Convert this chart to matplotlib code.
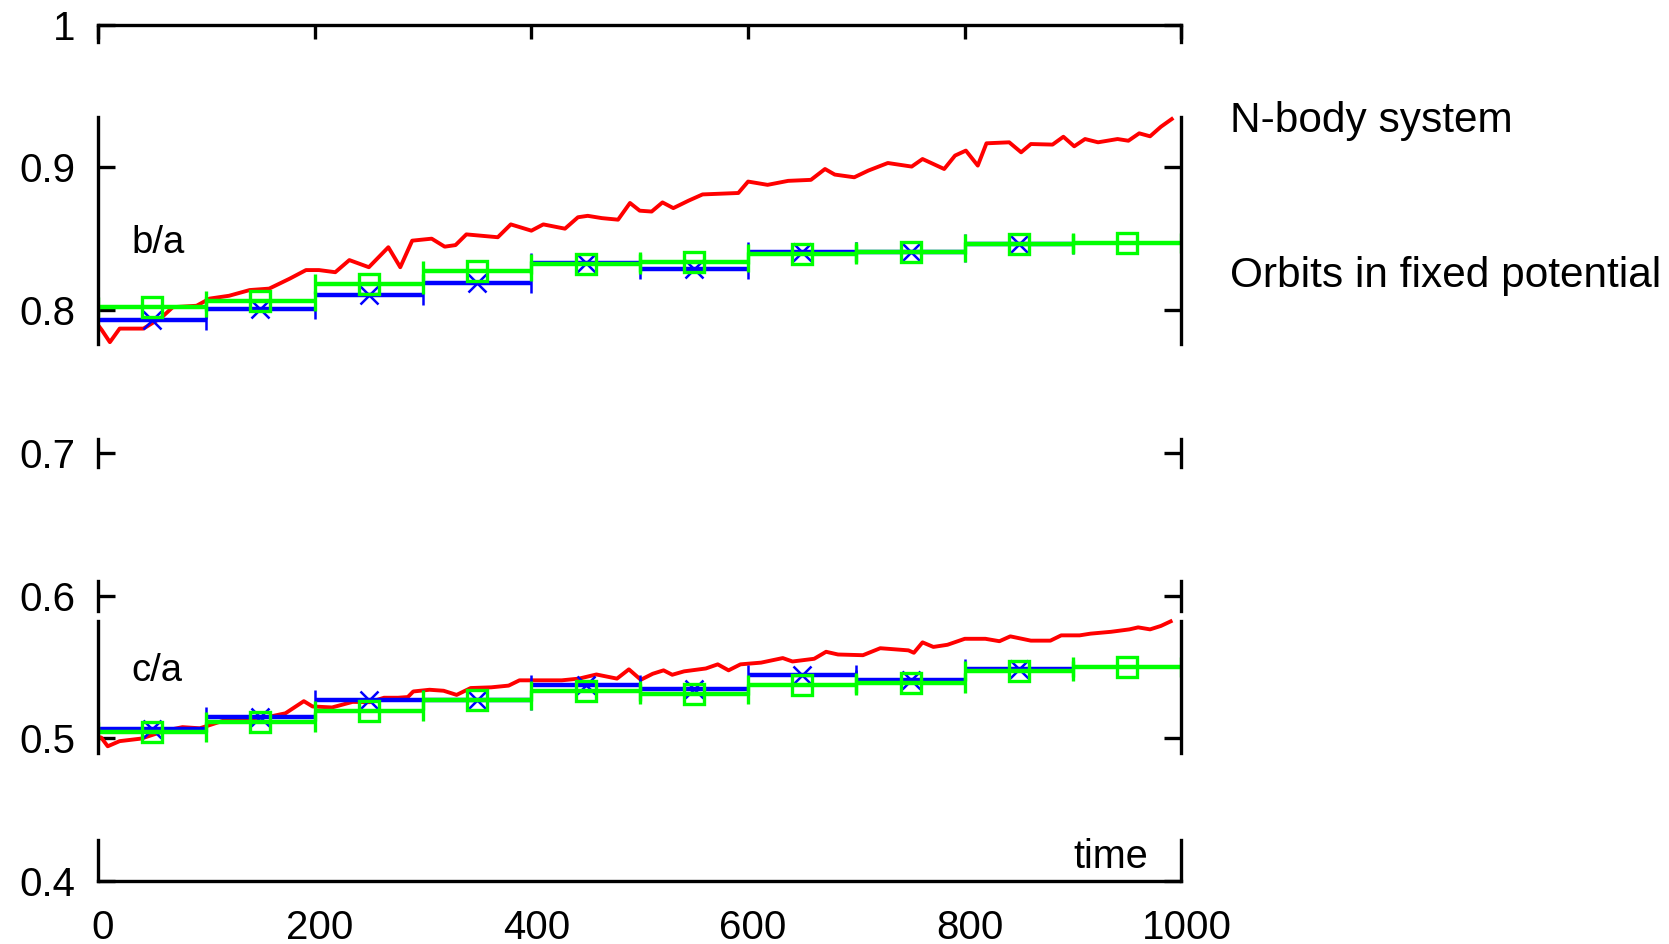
import matplotlib
matplotlib.use('Agg')
import matplotlib.pyplot as plt
from matplotlib.transforms import ScaledTranslation

plt.rcParams['font.family'] = ['Liberation Sans', 'DejaVu Sans']

# N-body system (red)
ba_t = [0, 3.5, 11, 20, 42, 59, 69, 91, 103, 121,
        140, 158, 177, 192, 204, 219, 232, 250, 268, 279,
        290, 308, 320, 330, 340, 369, 381, 400, 411, 431,
        443, 452, 465, 480, 491, 500, 511, 521, 531, 545,
        558, 591, 600, 618, 637, 658, 671, 680, 698, 711,
        729, 751, 761, 781, 791, 801, 812, 820, 841, 852,
        861, 881, 891, 901, 911, 923, 941, 951, 961, 971,
        981, 991]
ba_red = [0.7895, 0.786, 0.7775, 0.787, 0.787, 0.795, 0.802, 0.803, 0.808, 0.810,
          0.814, 0.815, 0.822, 0.828, 0.828, 0.8265, 0.835, 0.830, 0.844, 0.830,
          0.8486, 0.850, 0.8444, 0.8455, 0.853, 0.851, 0.860, 0.8556, 0.860, 0.857,
          0.865, 0.866, 0.8644, 0.8633, 0.875, 0.8696, 0.869, 0.8754, 0.8714, 0.8766,
          0.881, 0.882, 0.890, 0.8877, 0.8905, 0.8912, 0.8988, 0.8949, 0.893, 0.8977,
          0.903, 0.9005, 0.9058, 0.8988, 0.9082, 0.9117, 0.9012, 0.9168, 0.9175, 0.9105,
          0.9163, 0.9159, 0.9214, 0.9147, 0.9198, 0.9175, 0.9198, 0.9186, 0.9238, 0.9217,
          0.9284, 0.9338]

ca_t = [0, 3, 9, 20, 40, 62, 78, 94, 107, 120,
        139, 158, 173, 190, 198, 216, 235, 251, 264, 277,
        286, 291, 306, 319, 331, 344, 363, 379, 389, 411,
        428, 444, 460, 479, 490, 501, 512, 522, 530, 541,
        561, 572, 582, 593, 612, 632, 641, 661, 672, 683,
        706, 722, 748, 753, 761, 771, 784, 800, 819, 832,
        842, 861, 879, 889, 906, 916, 935, 952, 960, 971,
        981, 990]
ca_red = [0.501, 0.5005, 0.4944, 0.498, 0.4998, 0.5053, 0.5078, 0.507, 0.5102, 0.5134,
          0.5138, 0.5151, 0.5175, 0.526, 0.5223, 0.5216, 0.5255, 0.5253, 0.5284, 0.5284,
          0.5289, 0.5328, 0.534, 0.5333, 0.5304, 0.5352, 0.5357, 0.5369, 0.5406, 0.5406,
          0.5406, 0.5418, 0.5447, 0.5418, 0.5483, 0.541, 0.5452, 0.5476, 0.5445, 0.5469,
          0.5489, 0.5518, 0.5476, 0.5518, 0.553, 0.5562, 0.5538, 0.5557, 0.5606, 0.5587,
          0.5582, 0.5631, 0.5616, 0.5599, 0.5672, 0.564, 0.5655, 0.5697, 0.5697, 0.568,
          0.5714, 0.5684, 0.5684, 0.5721, 0.5721, 0.5733, 0.5746, 0.5763, 0.5777, 0.5763,
          0.5787, 0.5819]

# binned values, bins of width 100
bin_mid = [50, 150, 250, 350, 450, 550, 650, 750, 850, 950]
bin_half = 50
ba_blue = [0.793, 0.801, 0.8105, 0.819, 0.833, 0.829, 0.841, 0.841, 0.846]
ba_green = [0.802, 0.806, 0.818, 0.8276, 0.832, 0.834, 0.839, 0.841, 0.846, 0.847]
ca_blue = [0.5065, 0.515, 0.5265, 0.5265, 0.537, 0.5342, 0.544, 0.541, 0.5487]
ca_green = [0.5042, 0.5115, 0.519, 0.5265, 0.533, 0.531, 0.537, 0.5386, 0.547, 0.5496]

yticks = [0.4, 0.5, 0.6, 0.7, 0.8, 0.9, 1.0]
ytick_labels = ['0.4', '0.5', '0.6', '0.7', '0.8', '0.9', '1']
xticks = [0, 200, 400, 600, 800, 1000]

# pieces of the broken side frame (gnuplot multiplot look)
side_pieces = [(1.0, 0.988), (0.935, 0.776), (0.71, 0.69), (0.61, 0.589),
               (0.582, 0.49), (0.429, 0.4)]

fig = plt.figure(figsize=(16.69, 9.44), dpi=100)
ax = fig.add_axes([0.0587, 0.0667, 0.6492, 0.9073])

ax.plot(ba_t, ba_red, color='#ff0000', lw=2.8, zorder=2)
ax.plot(ca_t, ca_red, color='#ff0000', lw=2.8, zorder=2)

for mids, vals in [(bin_mid[:len(ba_blue)], ba_blue), (bin_mid[:len(ca_blue)], ca_blue)]:
    ax.errorbar(mids, vals, xerr=bin_half, fmt='x', color='#0000ff', ms=13, mew=1.8,
                elinewidth=3.2, capsize=7, capthick=3.0, zorder=3)
for mids, vals in [(bin_mid, ba_green), (bin_mid, ca_green)]:
    ax.errorbar(mids, vals, xerr=bin_half, fmt='s', color='#00ff00', ms=15, mew=2.4,
                mfc='none', elinewidth=3.2, capsize=7, capthick=3.0, zorder=4)

ax.set_xlim(0, 1000)
ax.set_ylim(0.4, 1.0)
for s in ax.spines.values():
    s.set_visible(False)

# frame
ax.plot([0, 1000], [1.0, 1.0], color='black', lw=2.4, clip_on=False, zorder=5)
ax.plot([0, 1000], [0.4, 0.4], color='black', lw=2.4, clip_on=False, zorder=5)
for top, bot in side_pieces:
    ax.plot([0, 0], [top, bot], color='black', lw=2.4, clip_on=False, zorder=5)
    ax.plot([1000, 1000], [top, bot], color='black', lw=2.4, clip_on=False, zorder=5)

ax.set_yticks(yticks)
ax.set_yticklabels(ytick_labels)
ax.set_xticks(xticks)
ax.tick_params(axis='y', direction='in', left=True, right=True, length=12, width=2.4,
               pad=16, labelsize=29)
ax.tick_params(axis='x', direction='in', top=True, bottom=False, labelbottom=True,
               length=10, width=2.4, pad=20, labelsize=29)
shift = ScaledTranslation(0.05, 0, fig.dpi_scale_trans)
for lab in ax.get_xticklabels():
    lab.set_transform(lab.get_transform() + shift)

ax.text(31, 0.840, 'b/a', fontsize=27.5, ha='left', va='baseline')
ax.text(31, 0.540, 'c/a', fontsize=27.5, ha='left', va='baseline')
ax.text(969, 0.409, 'time', fontsize=28.5, ha='right', va='baseline')

fig.text(0.737, 0.8605, 'N-body system', fontsize=30.5, ha='left', va='baseline')
fig.text(0.737, 0.6963, 'Orbits in fixed potential', fontsize=30.5, ha='left', va='baseline')

fig.savefig('out.png', dpi=100)
